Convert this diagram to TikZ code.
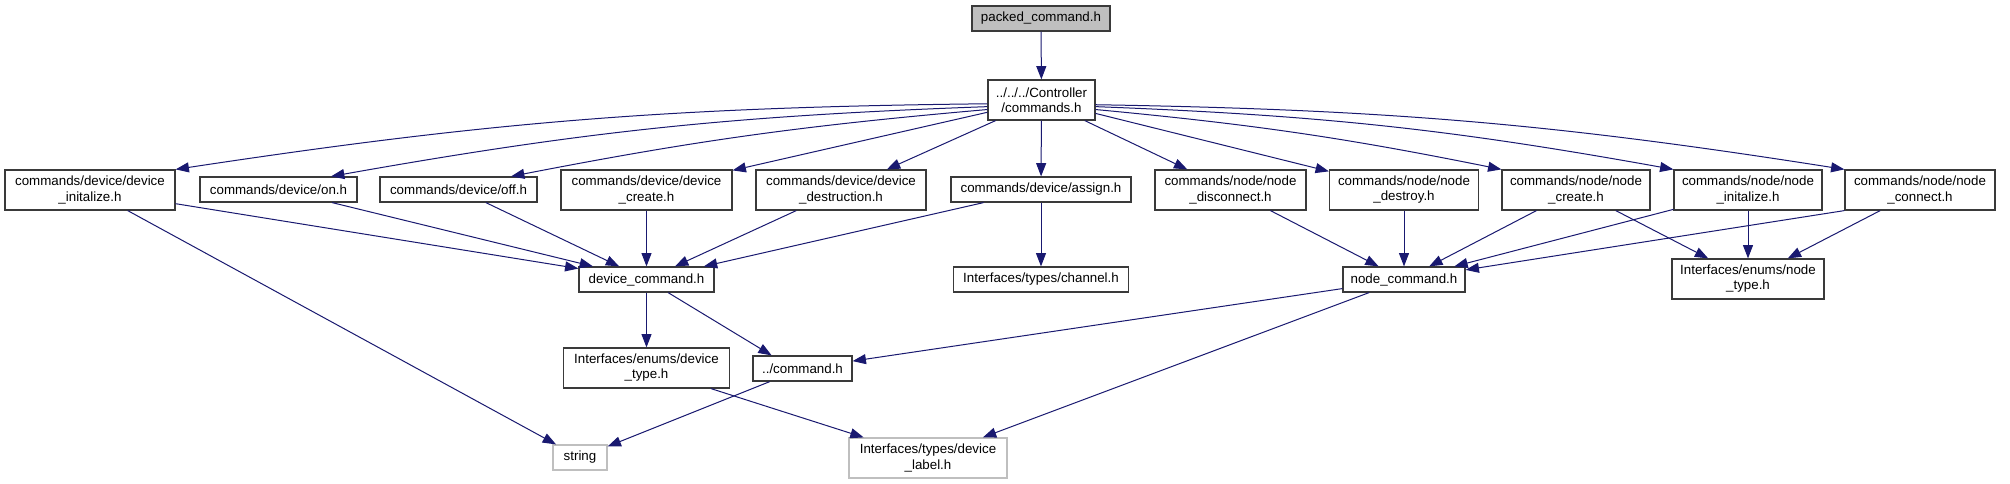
\documentclass[tikz,border=0pt]{standalone}
\usepackage{fontspec}
\setmainfont{Liberation Sans}
\usetikzlibrary{arrows.meta}
\definecolor{edgec}{HTML}{191970}
\definecolor{graybd}{HTML}{BFBFBF}
\definecolor{boxbd}{HTML}{3A3A3A}
\begin{document}
\begin{tikzpicture}[x=0.75pt,y=-0.75pt,
  box/.style={draw=boxbd,line width=0.9pt,fill=white,inner sep=0pt,align=center,
    font=\fontsize{10}{11.3}\selectfont},
  gbox/.style={box,draw=graybd},
  sz/.style 2 args={minimum width=#1*0.75pt,minimum height=#2*0.75pt},
  edge/.style={draw=edgec,line width=0.75pt,-{Triangle[length=10pt,width=7.5pt]}}
]
\useasboundingbox (0,0) rectangle (2010,484);
\fill[white] (0,0) rectangle (2010,484);
% nodes
\node[box,sz={138}{25},fill=graybd] (packed) at (1041,18.5) {packed\_command.h};
\node[box,sz={107}{40}] (commands) at (1041.5,100) {../../../Controller\\/commands.h};
\node[box,sz={170}{40}] (dinit) at (90,190) {commands/device/device\\\_initalize.h};
\node[box,sz={157}{25}] (on) at (278.5,189.5) {commands/device/on.h};
\node[box,sz={157}{25}] (off) at (458.5,189.5) {commands/device/off.h};
\node[box,sz={171}{40}] (dcreate) at (646.5,190) {commands/device/device\\\_create.h};
\node[box,sz={170}{40}] (ddestr) at (841,190) {commands/device/device\\\_destruction.h};
\node[box,sz={180}{25}] (assign) at (1041,189.5) {commands/device/assign.h};
\node[box,sz={151}{40}] (ndisc) at (1230.5,190) {commands/node/node\\\_disconnect.h};
\node[box,sz={149}{40}] (ndestroy) at (1404,190) {commands/node/node\\\_destroy.h};
\node[box,sz={148}{40}] (ncreate) at (1576,190) {commands/node/node\\\_create.h};
\node[box,sz={148}{40}] (ninit) at (1748,190) {commands/node/node\\\_initalize.h};
\node[box,sz={150}{40}] (nconnect) at (1920,190) {commands/node/node\\\_connect.h};
\node[box,sz={135}{25}] (dcmd) at (646.5,279.5) {device\_command.h};
\node[box,sz={175}{25}] (channel) at (1041,279.5) {Interfaces/types/channel.h};
\node[box,sz={122}{25}] (ncmd) at (1404,279.5) {node\_command.h};
\node[box,sz={152}{40}] (ntype) at (1748,279) {Interfaces/enums/node\\\_type.h};
\node[box,sz={166}{40}] (dtype) at (646.5,368) {Interfaces/enums/device\\\_type.h};
\node[box,sz={99}{25}] (cmdh) at (802.5,368.5) {../command.h};
\node[gbox,sz={54}{25}] (string) at (580,457.5) {string};
\node[gbox,sz={158}{40}] (dlabel) at (928,458) {Interfaces/types/device\\\_label.h};
% edges
\draw[edge] (packed) -- (commands);
\draw[edge] (commands.184) to[bend right=4] (dinit.north east);
\draw[edge] (commands.187.5) to[bend right=4] (on.14);
\draw[edge] (commands.190) to[bend right=3] (off.14);
\draw[edge] (commands) -- (dcreate);
\draw[edge] (commands) -- (ddestr);
\draw[edge] (commands) -- (assign);
\draw[edge] (commands) -- (ndisc);
\draw[edge] (commands) -- (ndestroy);
\draw[edge] (commands.350) to[bend left=3] (ncreate.north west);
\draw[edge] (commands.353) to[bend left=4] (ninit.north west);
\draw[edge] (commands.355.7) to[bend left=4] (nconnect.north west);
\draw[edge] (dinit) -- (dcmd);
\draw[edge] (dinit) -- (string);
\draw[edge] (on) -- (dcmd);
\draw[edge] (off) -- (dcmd);
\draw[edge] (dcreate) -- (dcmd);
\draw[edge] (ddestr) -- (dcmd);
\draw[edge] (assign) -- (dcmd);
\draw[edge] (assign) -- (channel);
\draw[edge] (ndisc) -- (ncmd);
\draw[edge] (ndestroy) -- (ncmd);
\draw[edge] (ncreate) -- (ncmd);
\draw[edge] (ncreate) -- (ntype);
\draw[edge] (ninit) -- (ncmd);
\draw[edge] (ninit) -- (ntype);
\draw[edge] (nconnect.south west) -- (ncmd);
\draw[edge] (nconnect) -- (ntype);
\draw[edge] (dcmd) -- (dtype);
\draw[edge] (dcmd) -- (cmdh.157);
\draw[edge] (ncmd) -- (cmdh);
\draw[edge] (ncmd) -- (dlabel);
\draw[edge] (cmdh) -- (string);
\draw[edge] (dtype) -- (dlabel);
\end{tikzpicture}
\end{document}
